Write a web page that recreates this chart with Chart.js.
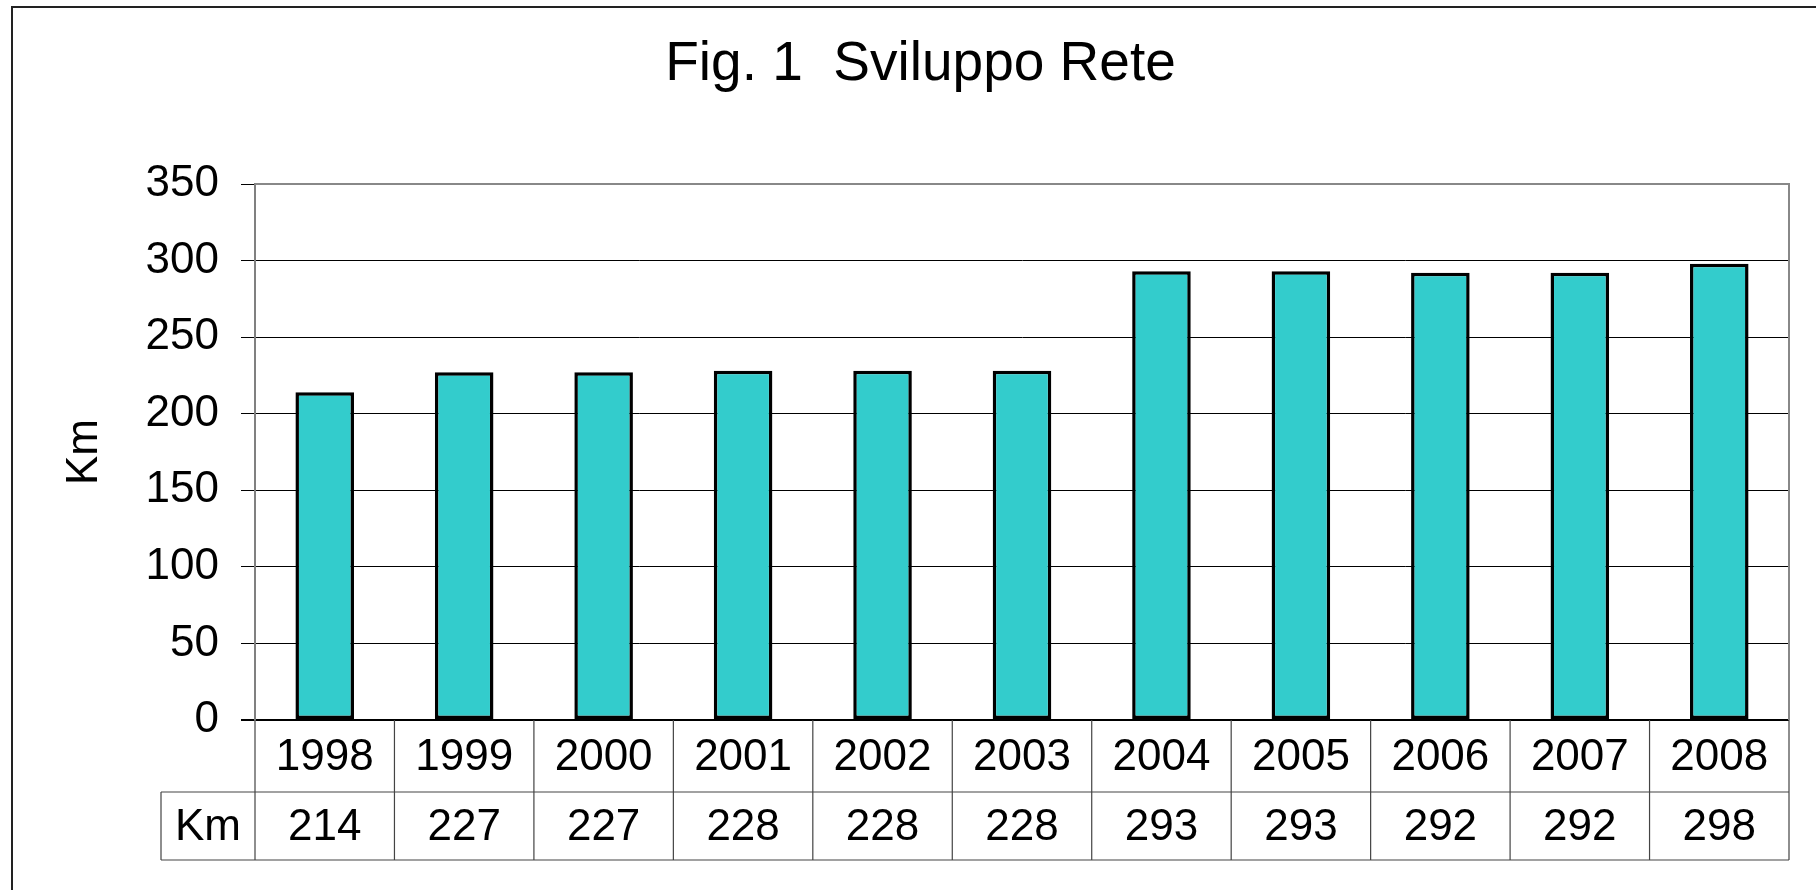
<!DOCTYPE html>
<html>
<head>
<meta charset="utf-8">
<script src="https://cdn.jsdelivr.net/npm/chart.js@4"></script>
<style>
  html, body { margin: 0; padding: 0; background: #fff; }
  #wrap { width: 1816px; height: 890px; }
</style>
</head>
<body>
<div id="wrap"><canvas id="net-chart"></canvas></div>
<script>
// ---- DATA ----
const years = ['1998', '1999', '2000', '2001', '2002', '2003', '2004', '2005', '2006', '2007', '2008'];
const kmValues = [214, 227, 227, 228, 228, 228, 293, 293, 292, 292, 298];
const yMin = 0;
const yMax = 350;
const yStep = 50;
const titleText = 'Fig. 1  Sviluppo Rete';
const axisTitle = 'Km';

const FONT = '"Liberation Sans", Arial, Helvetica, sans-serif';
const TXT = 44;

// outer frame + data table under the x axis
const frameAndTable = {
  id: 'frameAndTable',
  beforeDraw(chart) {
    const c = chart.ctx;
    c.save();
    c.fillStyle = '#fff';
    c.fillRect(0, 0, chart.width, chart.height);
    c.strokeStyle = '#222';
    c.lineWidth = 2;
    c.strokeRect(12, 7, chart.width + 10, chart.height + 10);
    c.restore();
  },
  afterDraw(chart) {
    const { ctx, chartArea: a, scales: { x } } = chart;
    const half = (x.getPixelForValue(1) - x.getPixelForValue(0)) / 2;
    const row1 = a.bottom + 72;
    const row2 = row1 + 68;
    const labelLeft = 161;

    ctx.save();
    // plot area frame (top / right)
    ctx.strokeStyle = '#888';
    ctx.lineWidth = 2;
    ctx.beginPath();
    ctx.moveTo(a.left, a.top);
    ctx.lineTo(a.right, a.top);
    ctx.lineTo(a.right, a.bottom);
    ctx.stroke();

    // table grid
    ctx.strokeStyle = '#444';
    ctx.lineWidth = 1.2;
    ctx.beginPath();
    ctx.moveTo(labelLeft, row1); ctx.lineTo(a.right, row1);
    ctx.moveTo(labelLeft, row2); ctx.lineTo(a.right, row2);
    ctx.moveTo(labelLeft, row1); ctx.lineTo(labelLeft, row2);
    years.forEach((_, i) => {
      const xl = x.getPixelForValue(i) - half;
      ctx.moveTo(xl, a.bottom); ctx.lineTo(xl, row2);
    });
    ctx.moveTo(a.right, a.bottom); ctx.lineTo(a.right, row2);
    ctx.stroke();

    // table text
    ctx.fillStyle = '#000';
    ctx.font = TXT + 'px ' + FONT;
    ctx.textAlign = 'center';
    ctx.textBaseline = 'middle';
    years.forEach((yr, i) => {
      const cx = x.getPixelForValue(i);
      ctx.fillText(yr, cx, (a.bottom + row1) / 2 + 2);
      ctx.fillText(String(kmValues[i]), cx, (row1 + row2) / 2 + 2);
    });
    ctx.fillText(axisTitle, (labelLeft + a.left) / 2, (row1 + row2) / 2 + 2);
    ctx.restore();
  },
};

new Chart(document.getElementById('net-chart').getContext('2d'), {
  type: 'bar',
  data: {
    labels: years,
    datasets: [{
      label: axisTitle,
      data: kmValues,
      backgroundColor: '#33CCCC',
      borderColor: '#000',
      borderWidth: 3.5,
      borderSkipped: false,
      barPercentage: 0.42,
      categoryPercentage: 1,
    }],
  },
  options: {
    responsive: true,
    maintainAspectRatio: false,
    animation: false,
    layout: { padding: { left: 52, right: 27, top: 10, bottom: 170 } },
    plugins: {
      legend: { display: false },
      tooltip: { enabled: false },
      title: {
        display: true,
        text: titleText,
        color: '#000',
        font: { size: 55, weight: 'normal', family: FONT },
        padding: { top: 22, bottom: 86 },
      },
    },
    scales: {
      x: { display: false },
      y: {
        min: yMin,
        max: yMax,
        ticks: { stepSize: yStep, color: '#000', font: { size: TXT, family: FONT }, padding: 22 },
        grid: {
          color: ctx => ctx.tick && ctx.tick.value === yMax ? '#888' : '#000',
          lineWidth: ctx => ctx.tick && ctx.tick.value === yMin ? 2 : 1,
          tickColor: '#000',
          tickLength: 14,
        },
        border: { color: '#808080', width: 2 },
        title: {
          display: true,
          text: axisTitle,
          color: '#000',
          font: { size: TXT, family: FONT },
          padding: { top: 6, bottom: 0 },
        },
        afterFit(scale) { scale.width = 203; },
      },
    },
  },
  plugins: [frameAndTable],
});
</script>
</body>
</html>
